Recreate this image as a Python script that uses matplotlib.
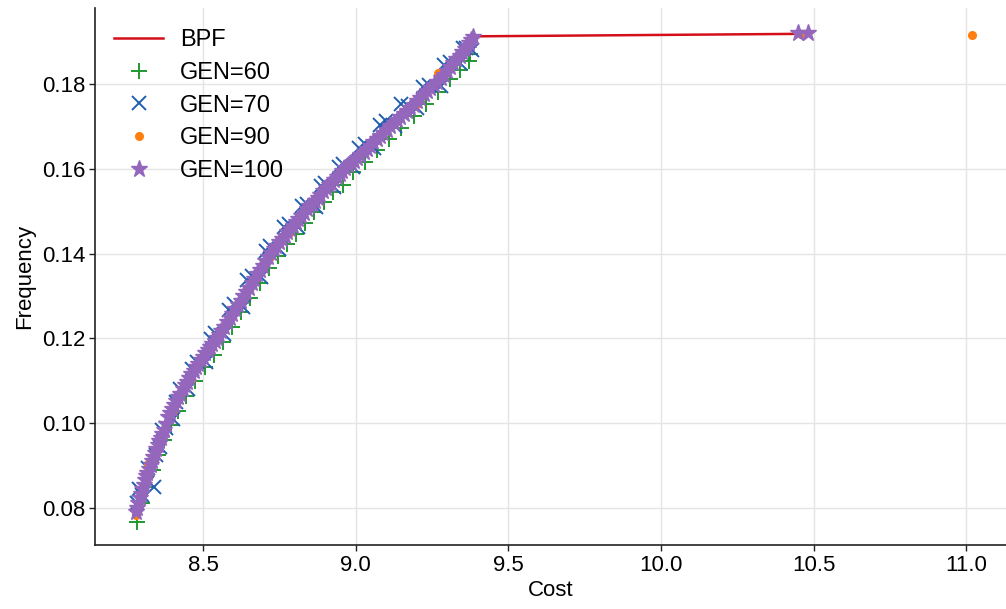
import numpy as np
import matplotlib.pyplot as plt

plt.rcParams['font.family'] = ['Liberation Sans', 'DejaVu Sans']

# best Pareto front (cost, frequency)
bpf_cost = [8.280, 8.295, 8.310, 8.325, 8.340, 8.355, 8.370, 8.385, 8.400, 8.420,
            8.440, 8.460, 8.480, 8.500, 8.520, 8.545, 8.570, 8.600, 8.630, 8.660,
            8.690, 8.720, 8.750, 8.780, 8.810, 8.840, 8.870, 8.900, 8.930, 8.960,
            9.000, 9.040, 9.080, 9.120, 9.160, 9.200, 9.230, 9.260, 9.290, 9.320,
            9.350, 9.370, 9.385, 10.480]
bpf_freq = [0.0790, 0.0830, 0.0866, 0.0900, 0.0932, 0.0960, 0.0988, 0.1014, 0.1038, 0.1065,
            0.1090, 0.1112, 0.1135, 0.1157, 0.1178, 0.1200, 0.1229, 0.1263, 0.1297, 0.1331,
            0.1366, 0.1400, 0.1427, 0.1453, 0.1479, 0.1504, 0.1528, 0.1552, 0.1575, 0.1597,
            0.1622, 0.1649, 0.1676, 0.1703, 0.1730, 0.1757, 0.1778, 0.1800, 0.1825, 0.1852,
            0.1880, 0.1898, 0.1912, 0.1918]

gen60_cost = [8.285, 8.300, 8.318, 8.335, 8.352, 8.372, 8.395, 8.418, 8.445, 8.475,
              8.505, 8.535, 8.565, 8.595, 8.625, 8.655, 8.685, 8.715, 8.745, 8.775,
              8.805, 8.835, 8.865, 8.895, 8.925, 8.960, 8.990, 9.030, 9.070, 9.110,
              9.150, 9.190, 9.230, 9.270, 9.310, 9.340, 9.370, 9.375]
gen60_freq = [0.0768, 0.0812, 0.0850, 0.0890, 0.0925, 0.0960, 0.0995, 0.1030, 0.1065, 0.1100,
              0.1132, 0.1162, 0.1192, 0.1227, 0.1262, 0.1296, 0.1330, 0.1365, 0.1395, 0.1422,
              0.1447, 0.1472, 0.1497, 0.1521, 0.1544, 0.1562, 0.1592, 0.1617, 0.1643, 0.1670,
              0.1697, 0.1724, 0.1752, 0.1780, 0.1812, 0.1832, 0.1855, 0.1870]

gen70_cost = [8.283, 8.300, 8.320, 8.338, 8.345, 8.360, 8.380, 8.400, 8.425, 8.450,
              8.480, 8.510, 8.540, 8.570, 8.600, 8.630, 8.660, 8.690, 8.720, 8.750,
              8.780, 8.810, 8.840, 8.870, 8.900, 8.930, 8.960, 8.990, 9.030, 9.060,
              9.100, 9.130, 9.170, 9.200, 9.240, 9.280, 9.310, 9.340, 9.360, 9.380,
              8.290, 8.365, 8.410, 8.465, 8.525, 8.585, 8.645, 8.705, 8.765, 8.825,
              8.885, 8.945, 9.010, 9.080, 9.150, 9.220, 9.290, 9.350]
gen70_freq = [0.0812, 0.0830, 0.0895, 0.0850, 0.0925, 0.0945, 0.0990, 0.1010, 0.1080, 0.1080,
              0.1145, 0.1145, 0.1212, 0.1210, 0.1280, 0.1275, 0.1348, 0.1345, 0.1418, 0.1410,
              0.1470, 0.1462, 0.1518, 0.1510, 0.1566, 0.1558, 0.1612, 0.1605, 0.1658, 0.1650,
              0.1712, 0.1700, 0.1748, 0.1742, 0.1798, 0.1795, 0.1852, 0.1850, 0.1885, 0.1880,
              0.0845, 0.0985, 0.1050, 0.1128, 0.1198, 0.1268, 0.1338, 0.1405, 0.1462, 0.1512,
              0.1560, 0.1604, 0.1650, 0.1702, 0.1752, 0.1792, 0.1844, 0.1885]

gen90_cost = [8.282, 8.320, 8.345, 8.400, 8.460, 8.530, 8.590, 8.650, 8.720, 8.780,
              8.850, 8.920, 8.990, 9.060, 9.130, 9.200, 9.270, 9.330, 9.385, 10.460, 11.020]
gen90_freq = [0.0785, 0.0905, 0.0940, 0.1030, 0.1105, 0.1180, 0.1252, 0.1322, 0.1392, 0.1448,
              0.1510, 0.1568, 0.1614, 0.1662, 0.1710, 0.1752, 0.1826, 0.1860, 0.1910, 0.1918, 0.1915]

gen100_cost = [8.280, 8.288, 8.296, 8.305, 8.314, 8.323, 8.332, 8.342, 8.352, 8.362,
               8.373, 8.385, 8.398, 8.412, 8.426, 8.440, 8.455, 8.470, 8.485, 8.500,
               8.515, 8.530, 8.545, 8.560, 8.578, 8.596, 8.614, 8.632, 8.650, 8.668,
               8.686, 8.704, 8.722, 8.740, 8.758, 8.776, 8.794, 8.812, 8.830, 8.848,
               8.866, 8.884, 8.902, 8.920, 8.938, 8.956, 8.975, 8.994, 9.015, 9.036,
               9.058, 9.080, 9.102, 9.124, 9.146, 9.168, 9.190, 9.212, 9.234, 9.256,
               9.278, 9.300, 9.320, 9.340, 9.358, 9.372, 9.385, 10.450, 10.480,
               8.284, 8.292, 8.300, 8.310, 8.318, 8.328, 8.337, 8.347, 8.357, 8.367,
               8.379, 8.391, 8.405, 8.419, 8.433, 8.448, 8.462, 8.478, 8.492, 8.508,
               8.522, 8.538, 8.552, 8.569, 8.587, 8.605, 8.623, 8.641, 8.659, 8.677,
               8.695, 8.713, 8.731, 8.749, 8.767, 8.785, 8.803, 8.821, 8.839, 8.857,
               8.875, 8.893, 8.911, 8.929, 8.947, 8.965, 8.985, 9.004, 9.026, 9.047,
               9.069, 9.091, 9.113, 9.135, 9.157, 9.179, 9.201, 9.223, 9.245, 9.267,
               9.289, 9.310, 9.330, 9.349, 9.365, 9.378]
gen100_freq = [0.0790, 0.0812, 0.0834, 0.0855, 0.0875, 0.0893, 0.0911, 0.0930, 0.0950, 0.0966,
               0.0984, 0.1014, 0.1034, 0.1052, 0.1070, 0.1090, 0.1106, 0.1124, 0.1140, 0.1157,
               0.1173, 0.1187, 0.1200, 0.1217, 0.1238, 0.1258, 0.1279, 0.1299, 0.1320, 0.1340,
               0.1361, 0.1382, 0.1402, 0.1419, 0.1434, 0.1450, 0.1466, 0.1481, 0.1496, 0.1511,
               0.1525, 0.1539, 0.1554, 0.1567, 0.1581, 0.1594, 0.1608, 0.1618, 0.1632, 0.1646,
               0.1662, 0.1677, 0.1692, 0.1707, 0.1722, 0.1737, 0.1751, 0.1766, 0.1784, 0.1797,
               0.1813, 0.1831, 0.1849, 0.1866, 0.1882, 0.1896, 0.1910, 0.1919, 0.1919,
               0.0801, 0.0823, 0.0845, 0.0866, 0.0884, 0.0902, 0.0921, 0.0940, 0.0958, 0.0975,
               0.0999, 0.1024, 0.1043, 0.1061, 0.1080, 0.1098, 0.1115, 0.1132, 0.1148, 0.1165,
               0.1180, 0.1194, 0.1208, 0.1228, 0.1248, 0.1269, 0.1289, 0.1310, 0.1330, 0.1351,
               0.1371, 0.1392, 0.1411, 0.1427, 0.1442, 0.1458, 0.1474, 0.1489, 0.1504, 0.1518,
               0.1532, 0.1547, 0.1561, 0.1574, 0.1588, 0.1601, 0.1613, 0.1625, 0.1639, 0.1654,
               0.1670, 0.1685, 0.1700, 0.1715, 0.1730, 0.1744, 0.1759, 0.1775, 0.1790, 0.1805,
               0.1822, 0.1840, 0.1858, 0.1874, 0.1889, 0.1903]

fig = plt.figure(figsize=(10.06, 6.09), dpi=100)
ax = fig.add_axes([0.0944, 0.105, 0.9056, 0.882])

ax.plot(bpf_cost, bpf_freq, color='#d40f1a', lw=1.8, label='BPF', zorder=2)
ax.plot(gen60_cost, gen60_freq, ls='none', marker='+', ms=11, mew=1.4,
        color='#1e9a2e', label='GEN=60', zorder=3)
ax.plot(gen70_cost, gen70_freq, ls='none', marker='x', ms=10, mew=1.4,
        color='#1f5fb0', label='GEN=70', zorder=4)
ax.plot(gen90_cost, gen90_freq, ls='none', marker='o', ms=5.5,
        color='#ff7f0e', label='GEN=90', zorder=5)
ax.plot(gen100_cost, gen100_freq, ls='none', marker='*', ms=12.5,
        color='#9467bd', label='GEN=100', zorder=6)

ax.set_xlim(8.146, 11.13)
ax.set_ylim(0.0713, 0.1979)
ax.set_xticks([8.5, 9.0, 9.5, 10.0, 10.5, 11.0])
ax.set_yticks([0.08, 0.10, 0.12, 0.14, 0.16, 0.18])
ax.xaxis.set_major_formatter(plt.FormatStrFormatter('%.1f'))
ax.yaxis.set_major_formatter(plt.FormatStrFormatter('%.2f'))

ax.grid(True, color='#e4e4e4', lw=1.0)
ax.set_axisbelow(True)
for side in ['top', 'right']:
    ax.spines[side].set_visible(False)
for side in ['left', 'bottom']:
    ax.spines[side].set_color('#222222')
    ax.spines[side].set_linewidth(1.2)
ax.tick_params(labelsize=16, length=4, width=1.0, color='#222222', pad=3)

ax.set_xlabel('Cost', fontsize=16, labelpad=3)
ax.set_ylabel('Frequency', fontsize=16, labelpad=5)

ax.legend(loc='upper left', frameon=False, fontsize=17, handlelength=2.1,
          handletextpad=0.7, labelspacing=0.45, borderaxespad=0.4,
          bbox_to_anchor=(0.0, 0.995))

plt.savefig('out.png', dpi=100)
